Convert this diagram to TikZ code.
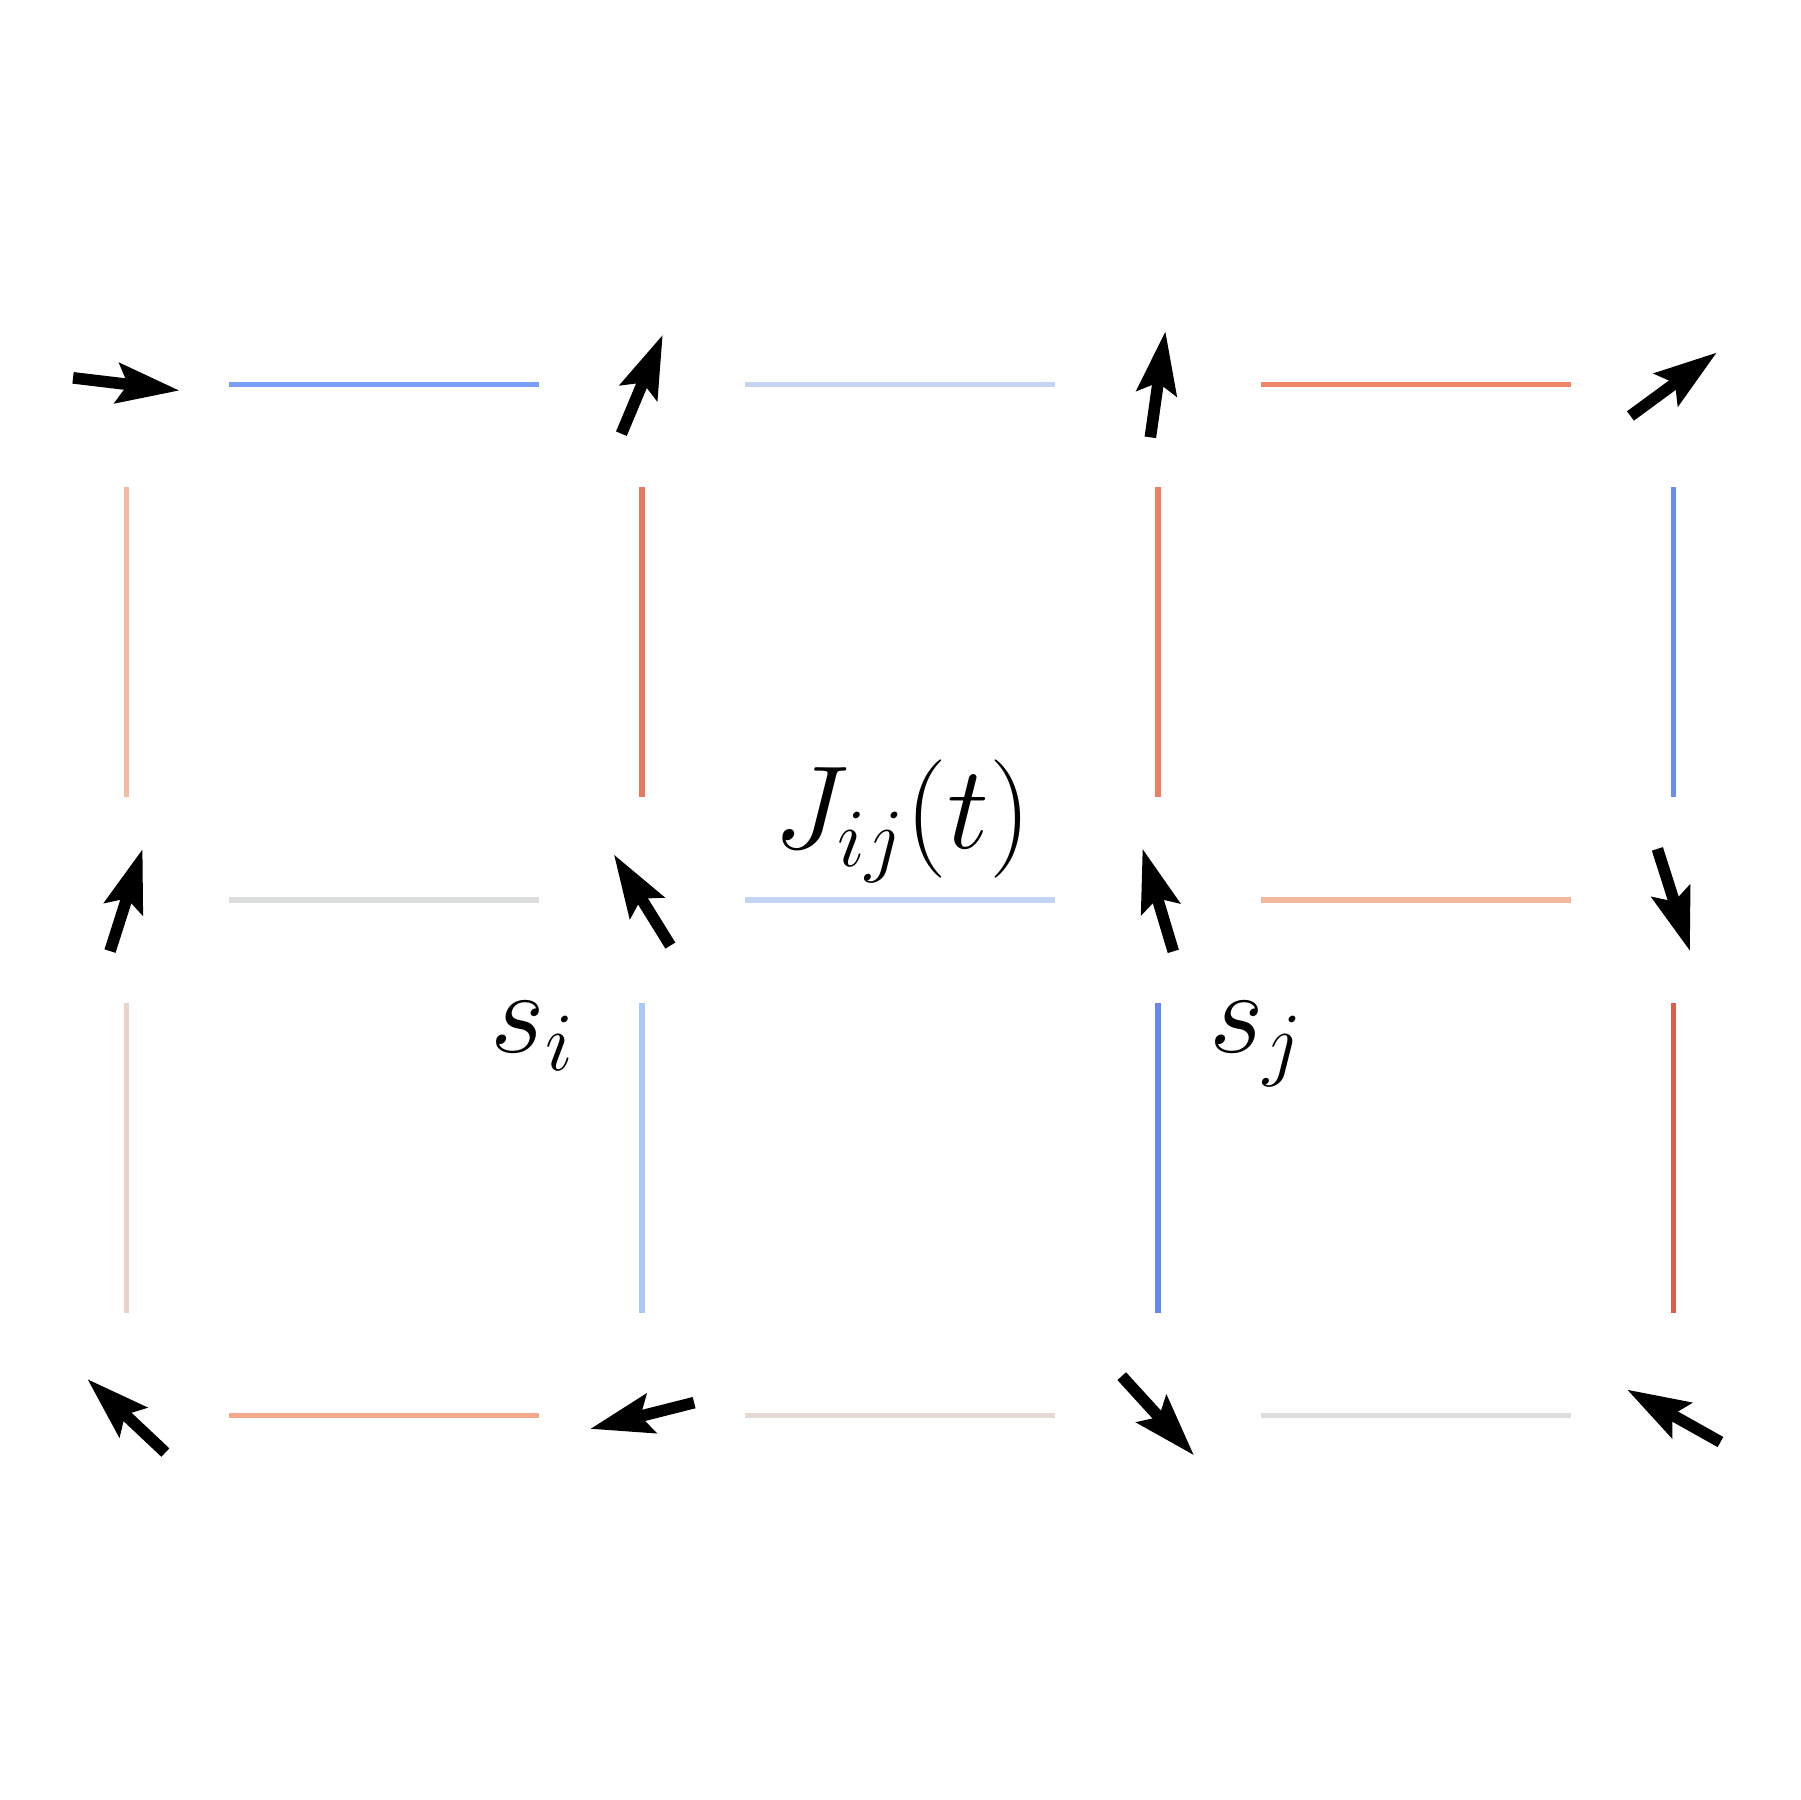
\RequirePackage{fix-cm}
\documentclass[tikz,border=0pt]{standalone}
\usepackage{amsmath}
\usepackage{tikz}
\usetikzlibrary{arrows.meta, calc}
\usepackage{xcolor}

% coupling colours (cold = negative, warm = positive)
\definecolor{jA}{HTML}{7B9FF9}
\definecolor{jB}{HTML}{C4D5F3}
\definecolor{jC}{HTML}{EE8468}
\definecolor{jD}{HTML}{DCDDDD}
\definecolor{jE}{HTML}{F5BA9E}
\definecolor{jF}{HTML}{F5A98B}
\definecolor{jG}{HTML}{E4D9D3}
\definecolor{jH}{HTML}{F5BBA2}
\definecolor{jI}{HTML}{ECD3CA}
\definecolor{jK}{HTML}{E9785D}
\definecolor{jL}{HTML}{ABC8FD}
\definecolor{jM}{HTML}{EE7F64}
\definecolor{jN}{HTML}{6788EE}
\definecolor{jO}{HTML}{6B8DF0}
\definecolor{jP}{HTML}{DC5D4A}

\newcommand{\spin}[2]{\draw[spin] ([shift={(#2:-0.104)}]#1) -- ([shift={(#2:0.104)}]#1);}

\begin{document}
\begin{tikzpicture}[
        x=4.367cm, y=4.367cm,
        bond/.style={line width=1.3pt, shorten <=0.873cm, shorten >=0.873cm},
        spin/.style={line width=2.8pt, -{Stealth[length=15pt, width=9.5pt, inset=2.5pt]}},
        lbl/.style={inner sep=0pt, font=\fontsize{28.5}{34}\selectfont}
    ]
        \useasboundingbox (-0.2449,-0.7449) rectangle (3.2449,2.7449);

        % Sites
        \coordinate (a1) at (0,2); \coordinate (a2) at (1,2); \coordinate (a3) at (2,2); \coordinate (a4) at (3,2);
        \coordinate (b1) at (0,1); \coordinate (b2) at (1,1); \coordinate (b3) at (2,1); \coordinate (b4) at (3,1);
        \coordinate (c1) at (0,0); \coordinate (c2) at (1,0); \coordinate (c3) at (2,0); \coordinate (c4) at (3,0);

        % Horizontal bonds
        \draw[bond, jA] (a1) -- (a2);
        \draw[bond, jB] (a2) -- (a3);
        \draw[bond, jC] (a3) -- (a4);
        \draw[bond, jD] (b1) -- (b2);
        \draw[bond, jB] (b2) -- (b3);
        \draw[bond, jE] (b3) -- (b4);
        \draw[bond, jF] (c1) -- (c2);
        \draw[bond, jG] (c2) -- (c3);
        \draw[bond, jD] (c3) -- (c4);

        % Vertical bonds
        \draw[bond, jH] (a1) -- (b1);
        \draw[bond, jI] (b1) -- (c1);
        \draw[bond, jK] (a2) -- (b2);
        \draw[bond, jL] (b2) -- (c2);
        \draw[bond, jM] (a3) -- (b3);
        \draw[bond, jN] (b3) -- (c3);
        \draw[bond, jO] (a4) -- (b4);
        \draw[bond, jP] (b4) -- (c4);

        % Spins
        \spin{a1}{-6.8}
        \spin{a2}{67.3}
        \spin{a3}{81.9}
        \spin{a4}{36.3}
        \spin{b1}{72.3}
        \spin{b2}{121.8}
        \spin{b3}{106.7}
        \spin{b4}{-72.3}
        \spin{c1}{136.7}
        \spin{c2}{194.2}
        \spin{c3}{-47.6}
        \spin{c4}{150.7}

        % Labels
        \node[lbl, anchor=base west] (si) at (0.705, 0.704) {$s_i$};
        \node[lbl, anchor=base west] (sj) at (2.098, 0.704) {$s_j$};
        \node[lbl, anchor=base] (Jij) at (1.505, 1.100) {$J_{ij}(t)$};
    \end{tikzpicture}
\end{document}
